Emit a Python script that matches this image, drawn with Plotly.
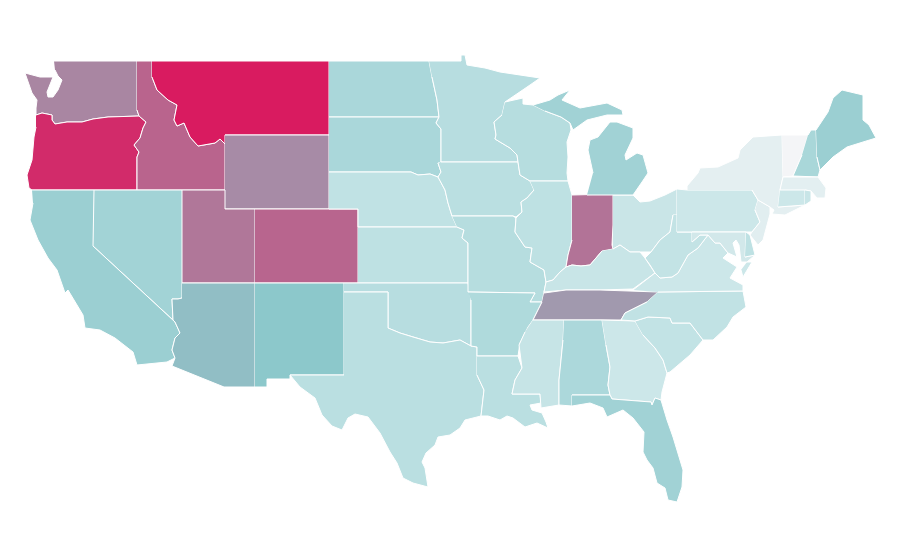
import plotly.graph_objects as go
from plotly.colors import sample_colorscale

# state outlines, no topojson available offline
WA = [(54,61),(137,61),(137,110),(139,116),(108,117),(93,119),(82,122),(67,122),(55,124),(52,120),(52,115),(42,113),(36,115),
      (36,108),(37,100),(32,93),(25,73),(40,77),(53,77),(47,92),(48,97),(53,97),(58,90),(62,80),(58,76),(55,70)]
OR = [(36,115),(42,113),(52,115),(52,120),(55,124),(67,122),(82,122),(93,119),(108,117),(139,116),(146,122),(143,128),(140,138),
      (134,145),(139,152),(137,157),(137,190),(32,190),(29,188),(27,175),(32,160),(34,137),(36,127)]
ID = [(137,61),(152,61),(152,77),(157,90),(168,100),(177,105),(174,120),(177,126),(184,123),(190,137),(198,146),(215,143),
      (220,139),(225,144),(225,190),(137,190),(137,157),(139,152),(134,145),(140,138),(143,128),(146,122),(139,116),(137,110)]
MT = [(152,61),(329,61),(329,135),(225,135),(225,144),(220,139),(215,143),(198,146),(190,137),(184,123),(177,126),(174,120),
      (177,105),(168,100),(157,90),(152,77)]
WY = [(225,135),(329,135),(329,209),(225,209)]
UT = [(182,190),(225,190),(225,209),(255,209),(255,283),(182,283)]
CO = [(255,209),(358,209),(358,283),(255,283)]
NV = [(94,190),(182,190),(182,298),(178,299),(172,299),(173,320),(93,246)]
CA = [(32,190),(94,190),(93,246),(173,320),(175,322),(180,333),(175,338),(172,350),(175,358),(167,362),(137,365),(133,352),
      (115,338),(100,330),(85,328),(83,315),(68,290),(65,293),(57,270),(48,258),(38,240),(30,220),(33,203)]
AZ = [(182,283),(255,283),(255,387),(224,387),(172,366),(175,358),(172,350),(175,338),(180,333),(175,322),(173,320),(172,299),
      (178,299),(182,298)]
NM = [(255,283),(344,283),(344,375),(290,375),(290,379),(267,379),(267,387),(255,387)]
ND = [(329,61),(429,61),(432,77),(437,100),(439,117),(329,117)]
SD = [(329,117),(439,117),(436,123),(441,129),(441,162),(438,163),(441,172),(438,177),(430,174),(418,175),(411,172),(329,172)]
NE = [(329,172),(411,172),(418,175),(430,174),(438,177),(445,190),(448,203),(452,216),(457,227),(358,227),(358,209),(329,209)]
KS = [(358,227),(457,227),(464,230),(462,238),(468,243),(468,283),(358,283)]
OK = [(344,283),(468,283),(471,300),(471,346),(460,340),(443,343),(430,342),(413,337),(400,333),(388,328),(388,292),(344,292)]
TX = [(344,292),(388,292),(388,328),(400,333),(413,337),(430,342),(443,343),(460,340),(471,346),(477,347),(477,375),(484,390),
      (481,416),(465,420),(460,428),(450,435),(438,437),(435,445),(426,453),(422,462),(425,468),(428,487),(413,483),(403,478),(397,463),
      (390,452),(380,433),(368,417),(355,414),(348,418),(342,430),(332,426),(322,415),(315,398),(300,387),(290,375),(344,375)]
MN = [(429,61),(461,61),(461,55),(465,55),(467,65),(485,68),(500,72),(518,75),(540,78),(530,85),(505,102),(502,115),(494,122),
      (496,135),(495,139),(510,148),(517,155),(518,162),(441,162),(441,129),(436,123),(439,117),(437,100),(432,77)]
IA = [(441,162),(518,162),(520,175),(530,181),(534,190),(527,198),(521,202),(522,212),(516,217),(513,216),(452,216),(448,203),
      (445,190),(438,177),(441,172),(438,163)]
MO = [(452,216),(513,216),(516,218),(515,232),(525,247),(532,248),(530,262),(544,270),(546,282),(544,292),(542,302),(530,302),
      (535,293),(468,292),(468,283),(468,243),(462,238),(464,230),(457,227)]
AR = [(468,292),(535,293),(530,302),(542,302),(533,320),(528,327),(520,343),(518,356),(477,356),(477,347),(471,346),(471,300)]
LA = [(477,356),(518,356),(522,368),(515,380),(512,394),(540,394),(541,403),(530,405),(532,410),(542,413),(546,422),(548,428),
      (537,423),(525,427),(513,418),(507,416),(500,420),(488,416),(481,416),(484,390),(477,375)]
WI = [(505,102),(523,98),(523,104),(533,105),(545,111),(561,117),(570,123),(571,130),(567,142),(568,157),(567,173),(568,181),(530,181),
      (520,175),(518,162),(517,155),(510,148),(495,139),(496,135),(494,122),(502,115)]
IL = [(530,181),(568,181),(572,195),(572,240),(568,255),(566,267),(560,272),(553,280),(546,282),(544,270),(530,262),(532,248),
      (525,247),(515,232),(516,218),(522,212),(521,202),(527,198),(534,190)]
IN = [(572,195),(613,194),(613,225),(612,245),(613,249),(602,251),(596,258),(590,265),(581,266),(572,265),(566,267),(568,255),(572,240)]
OH = [(613,195),(633,195),(640,202),(650,201),(665,195),(677,189),(677,215),(673,215),(670,232),(660,240),(651,252),(645,252),
      (640,252),(630,252),(620,245),(613,249)]
MI_LOWER = [(587,195),(633,195),(642,182),(648,173),(643,155),(637,153),(626,160),(625,155),(633,138),(633,128),(617,122),(610,122),
            (598,137),(590,140),(588,150),(593,173)]
MI_UPPER = [(533,105),(550,100),(558,95),(570,90),(562,100),(580,108),(607,103),(622,110),(623,115),(607,115),(587,120),(573,130),
            (570,123),(561,117),(545,111)]
KY = [(613,249),(620,245),(630,252),(640,252),(645,258),(650,265),(655,273),(633,289),(600,290),(566,290),(544,292),(546,282),
      (553,280),(560,272),(566,267),(572,265),(581,266),(590,265),(596,258),(602,251)]
TN = [(544,293),(566,290),(600,290),(658,292),(647,302),(637,307),(625,313),(621,320),(533,320),(538,310),(542,302)]
MS = [(533,320),(564,320),(563,340),(559,380),(559,405),(541,408),(540,394),(512,394),(515,380),(522,368),(519,345),(525,332)]
AL = [(564,320),(602,320),(606,345),(610,367),(608,385),(610,395),(572,395),(572,406),(559,405),(559,380),(563,340)]
GA = [(602,320),(635,321),(643,335),(655,348),(663,360),(667,373),(662,392),(661,400),(655,398),(652,405),(651,402),(612,399),
      (610,395),(608,385),(610,367),(606,345)]
FL = [(572,395),(610,395),(612,399),(651,402),(652,405),(655,398),(661,400),(667,420),(673,437),(683,470),(682,487),(677,502),
      (668,500),(665,488),(657,483),(653,468),(647,460),(643,452),(644,432),(633,418),(623,410),(607,417),(603,408),(590,403),(572,406)]
SC = [(635,321),(648,317),(670,318),(672,323),(690,323),(703,340),(690,355),(670,372),(667,373),(663,360),(655,348),(643,335)]
NC = [(658,292),(743,291),(746,307),(733,317),(727,327),(713,340),(703,340),(690,323),(672,323),(670,318),(648,317),(635,321),
      (621,320),(625,313),(637,307),(647,302)]
VA = [(633,290),(655,273),(660,278),(672,277),(678,273),(688,255),(698,248),(708,235),(715,243),(720,243),(728,253),(723,258),
      (737,267),(730,278),(743,285),(743,291),(658,292)]
VA_SHORE = [(747,262),(752,262),(743,277),(741,270)]
WV = [(677,215),(677,232),(692,232),(692,242),(700,235),(708,235),(698,248),(688,255),(678,273),(672,277),(660,278),(655,273),
      (650,265),(645,258),(651,252),(660,240),(670,232),(673,215)]
PA = [(677,189),(687,190),(752,190),(758,200),(755,210),(760,222),(752,232),(677,232)]
MD = [(692,232),(746,232),(745,257),(755,255),(747,262),(741,262),(739,245),(736,240),(733,243),(737,257),(728,253),(720,243),
      (715,243),(708,235),(700,235),(692,242)]
DE = [(746,232),(750,235),(755,255),(745,257)]
NJ = [(758,200),(770,207),(770,214),(768,222),(763,240),(758,245),(750,235),(752,232),(760,222),(755,210)]
NY = [(687,190),(687,186),(698,173),(700,168),(718,167),(738,158),(740,150),(753,137),(782,135),(783,177),(780,190),(778,207),
      (805,205),(785,215),(772,214),(774,210),(770,207),(758,200),(752,190)]
VT = [(782,135),(808,135),(802,155),(793,176),(783,177)]
NH = [(808,135),(811,130),(816,130),(817,157),(820,170),(818,177),(793,176),(802,155)]
ME = [(816,130),(828,112),(833,98),(842,90),(863,95),(863,120),(869,125),(876,138),(863,142),(847,147),(833,157),(820,170),(817,157)]
MA = [(780,190),(783,177),(818,177),(822,182),(826,188),(825,198),(817,198),(811,191),(805,190)]
CT = [(780,190),(805,190),(805,205),(778,207)]
RI = [(805,190),(811,191),(811,201),(805,205)]

states = ['WA', 'OR', 'ID', 'MT', 'WY', 'UT', 'CO', 'NV', 'CA', 'AZ', 'NM', 'ND', 'SD', 'NE', 'KS', 'OK', 'TX', 'MN', 'IA', 'MO',
          'AR', 'LA', 'WI', 'IL', 'IN', 'OH', 'MI', 'MI', 'KY', 'TN', 'MS', 'AL', 'GA', 'FL', 'SC', 'NC', 'VA', 'VA', 'WV', 'PA', 'MD',
          'DE', 'NJ', 'NY', 'VT', 'NH', 'ME', 'MA', 'CT', 'RI']
outlines = [WA, OR, ID, MT, WY, UT, CO, NV, CA, AZ, NM, ND, SD, NE, KS, OK, TX, MN, IA, MO,
            AR, LA, WI, IL, IN, OH, MI_LOWER, MI_UPPER, KY, TN, MS, AL, GA, FL, SC, NC, VA, VA_SHORE, WV, PA, MD,
            DE, NJ, NY, VT, NH, ME, MA, CT, RI]
values = [0.69, 0.955, 0.79, 1.0, 0.675, 0.735, 0.785, 0.395, 0.43, 0.53, 0.5, 0.355, 0.355, 0.25, 0.26, 0.295, 0.28, 0.295, 0.28, 0.3,
          0.33, 0.28, 0.3, 0.26, 0.745, 0.205, 0.4, 0.4, 0.21, 0.635, 0.22, 0.345, 0.19, 0.4, 0.24, 0.245, 0.19, 0.19, 0.235, 0.19, 0.165,
          0.26, 0.09, 0.075, 0.0, 0.36, 0.43, 0.08, 0.19, 0.21]

scale = [[0, '#f4f5f7'], [0.25, '#c0e2e4'], [0.5, '#8cc8cb'], [1, '#d91b60']]

fig = go.Figure()
for name, outline, value in zip(states, outlines, values):
    fig.add_trace(go.Scatter(
        x=[p[0] for p in outline], y=[p[1] for p in outline],
        mode='lines', fill='toself', name=name,
        fillcolor=sample_colorscale(scale, value)[0],
        line=dict(color='white', width=1), hoverinfo='name',
    ))

# the page body has an 8px margin, so the ranges start at 8
fig.update_xaxes(range=[8, 908], visible=False)
fig.update_yaxes(range=[568, 8], visible=False)
fig.update_layout(width=900, height=560, margin=dict(l=0, r=0, t=0, b=0), showlegend=False,
                  paper_bgcolor='white', plot_bgcolor='white')
fig.write_html("out.html")
